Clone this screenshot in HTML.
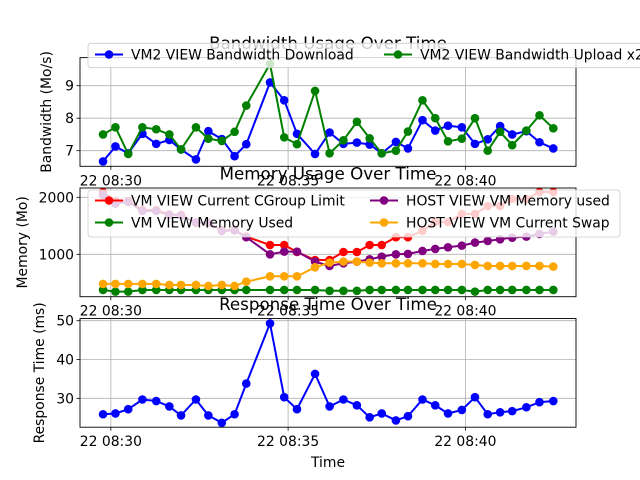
<!DOCTYPE html>
<html><head><meta charset="utf-8"><style>
html,body{margin:0;padding:0;background:#fff;}
svg{display:block;font-family:"DejaVu Sans","Liberation Sans",sans-serif;}
</style></head><body>
<svg id="fig" width="640" height="480" viewBox="0 0 640 480" xmlns="http://www.w3.org/2000/svg"></svg>
<script>
// Time in minutes after 08:00 on the 22nd
const times = [29.78,30.13,30.49,30.89,31.28,31.65,31.98,32.40,32.75,33.13,33.49,33.82,34.49,34.89,35.25,35.76,36.17,36.56,36.94,37.30,37.64,38.04,38.38,38.79,39.15,39.51,39.90,40.27,40.63,40.98,41.32,41.72,42.09,42.48];
const bwDownload = [6.67,7.13,6.92,7.52,7.21,7.33,7.04,6.73,7.6,7.36,6.83,7.2,9.1,8.55,7.52,6.9,7.56,7.21,7.25,7.19,6.92,7.27,7.07,7.94,7.62,7.77,7.72,7.21,7.35,7.76,7.5,7.6,7.26,7.07];
const bwUpload = [7.5,7.72,6.9,7.72,7.66,7.5,7.04,7.72,7.37,7.3,7.58,8.39,9.67,7.41,7.2,8.84,6.92,7.32,7.89,7.38,6.92,7.0,7.59,8.55,8.0,7.29,7.37,8.0,7.0,7.58,7.17,7.62,8.09,7.69];
const memCgroup = [2093,1930,1935,1777,1777,1700,1690,1550,1550,1420,1430,1310,1163,1163,1040,900,900,1040,1040,1163,1163,1300,1300,1410,1567,1567,1707,1707,1847,1847,1970,1970,2093,2093];
const memUsed = [374,345,345,374,374,374,374,374,374,374,374,374,374,374,374,374,360,360,360,374,374,374,374,374,374,374,374,345,374,374,374,374,374,374];
const memHost = [2040,1890,1920,1760,1760,1690,1680,1560,1550,1410,1420,1300,1000,1047,1047,871,795,842,871,912,959,1000,1006,1058,1094,1123,1152,1205,1234,1263,1292,1310,1357,1398];
const memSwap = [480,480,480,480,480,462,462,462,444,462,444,520,614,614,614,772,854,871,871,854,842,842,842,842,830,830,830,813,795,795,795,795,795,784];
const respTime = [25.9,26.1,27.2,29.7,29.3,27.9,25.6,29.7,25.6,23.7,25.9,33.8,49.3,30.3,27.2,36.3,27.9,29.7,28.2,25.1,26.1,24.3,25.4,29.7,28.2,26.1,27.0,30.3,25.9,26.4,26.7,27.7,29.0,29.3];
const xTickVals = [30,35,40];
const xTickLabels = ["22 08:30","22 08:35","22 08:40"];
const bwTicks = [7,8,9];
const memTicks = [1000,2000];
const respTicks = [30,40,50];

const NS="http://www.w3.org/2000/svg";
const svg=document.getElementById('fig');
function mk(tag,attrs,parent){const e=document.createElementNS(NS,tag);for(const k in attrs)e.setAttribute(k,attrs[k]);(parent||svg).appendChild(e);return e;}
const L=80,R=576,X0=29.13,X1=43.12;
const xs=t=>L+(t-X0)/(X1-X0)*(R-L);

function axes(name,top,bot,y0,y1,yticks,ylabel,title,ylx){
  const g=mk('g',{});
  
  
  const ys=v=>bot-(v-y0)/(y1-y0)*(bot-top);
  xTickVals.forEach(v=>{const l=mk('line',{x1:xs(v),x2:xs(v),y1:top,y2:bot,stroke:'#b0b0b0','stroke-width':0.8},g);
    
    });
  yticks.forEach(v=>{const l=mk('line',{x1:L,x2:R,y1:ys(v),y2:ys(v),stroke:'#b0b0b0','stroke-width':0.8},g);
    
    
    mk('line',{x1:L-3.5,x2:L,y1:ys(v),y2:ys(v),stroke:'#000','stroke-width':0.8},g);
    const t=mk('text',{x:L-6,y:ys(v)+5,'text-anchor':'end','font-size':13.9},g);t.textContent=v;
    
    });
  xTickVals.forEach((v,i)=>{mk('line',{x1:xs(v),x2:xs(v),y1:bot,y2:bot+3.5,stroke:'#000','stroke-width':0.8},g);
    const t=mk('text',{x:xs(v),y:bot+19,'text-anchor':'middle','font-size':13.9},g);t.textContent=xTickLabels[i];
    
    });
  const yl=mk('text',{x:0,y:0,'text-anchor':'middle','font-size':13.9,transform:`translate(${ylx},${(top+bot)/2}) rotate(-90)`},g);
  yl.textContent=ylabel;
  
  
  const tt=mk('text',{x:(L+R)/2,y:top-8.5,'text-anchor':'middle','font-size':16.7},g);tt.textContent=title;
  
  
  return {g,ys,top,bot};
}
function series(ax,vals,color,name){
  const g=mk('g',{},ax.g);
  
  
  const pts=vals.map((v,i)=>xs(times[i]).toFixed(1)+','+ax.ys(v).toFixed(1)).join(' ');
  mk('polyline',{points:pts,fill:'none',stroke:color,'stroke-width':2},g);
  vals.forEach((v,i)=>{const c=mk('circle',{cx:xs(times[i]),cy:ax.ys(v),r:4.3,fill:color},g);
    
    });
}
function frame(ax){mk('rect',{x:L,y:ax.top,width:R-L,height:ax.bot-ax.top,fill:'none',stroke:'#000','stroke-width':0.9},ax.g);}
function legend(x,y,w,h,entries){
  const g=mk('g',{});
  
  
  mk('rect',{x:x,y:y,width:w,height:h,rx:3,fill:'#fff','fill-opacity':0.8,stroke:'#ccc','stroke-width':0.8},g);
  entries.forEach(e=>{const eg=mk('g',{},g);
    
    
    mk('line',{x1:e[0],x2:e[0]+28,y1:e[1],y2:e[1],stroke:e[2],'stroke-width':2},eg);
    mk('circle',{cx:e[0]+14,cy:e[1],r:4.3,fill:e[2]},eg);
    const t=mk('text',{x:e[0]+36,y:e[1]+5,'font-size':13.9},eg);t.textContent=e[3];});
}
const a1=axes('bandwidth-axes',57.6,166.3,6.52,9.865,bwTicks,'Bandwidth (Mo/s)','Bandwidth Usage Over Time',51);
series(a1,bwDownload,'#0000ff','series-download');
series(a1,bwUpload,'#008000','series-upload');
frame(a1);
const a2=axes('memory-axes',188,296.7,256,2163,memTicks,'Memory (Mo)','Memory Usage Over Time',27);
series(a2,memCgroup,'#ff0000','series-cgroup-limit');
series(a2,memUsed,'#008000','series-memory-used');
series(a2,memHost,'#800080','series-host-memory');
series(a2,memSwap,'#ffa500','series-swap');
frame(a2);
const a3=axes('response-axes',318.5,427.2,22.56,50.57,respTicks,'Response Time (ms)','Response Time Over Time',44);
series(a3,respTime,'#0000ff','series-response-time');
frame(a3);
legend(88,43.3,560,24.4,[[95,54.5,'#0000ff','VM2 VIEW Bandwidth Download'],[384,54.5,'#008000','VM2 VIEW Bandwidth Upload x2']]);
legend(88,190,532,47,[[95,200.5,'#ff0000','VM VIEW Current CGroup Limit'],[95,222.5,'#008000','VM VIEW Memory Used'],[370,200.5,'#800080','HOST VIEW VM Memory used'],[370,222.5,'#ffa500','HOST VIEW VM Current Swap']]);
const xl=mk('text',{x:(L+R)/2,y:467,'text-anchor':'middle','font-size':13.9});
xl.textContent='Time';


</script>
</body></html>
